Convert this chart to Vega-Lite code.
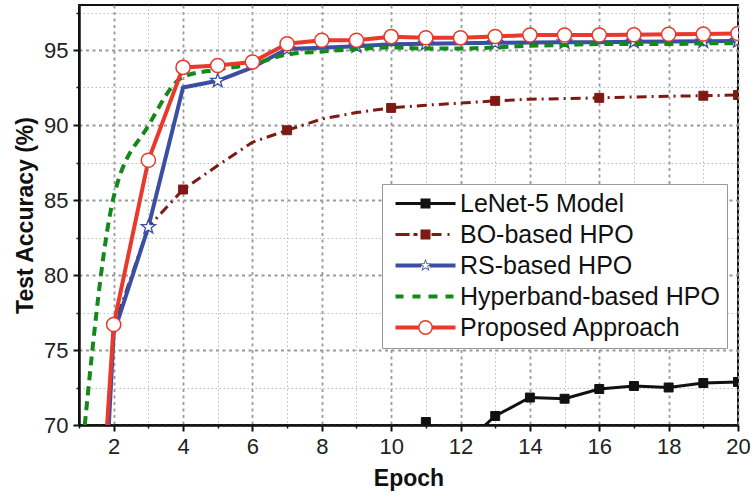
{
  "$schema": "https://vega.github.io/schema/vega-lite/v6.json",
  "width": 659,
  "height": 420,
  "autosize": "none",
  "padding": {"left": 79, "top": 5, "right": 13, "bottom": 71},
  "background": "white",
  "config": {
    "view": {"stroke": "#111111", "strokeWidth": 2},
    "font": "Liberation Sans"
  },
  "data": {
    "values": [
      {"series": "LeNet-5 Model", "epoch": 10, "acc": 62},
      {"series": "LeNet-5 Model", "epoch": 11, "acc": 70.2},
      {"series": "LeNet-5 Model", "epoch": 12, "acc": 68.5},
      {"series": "LeNet-5 Model", "epoch": 13, "acc": 70.6},
      {"series": "LeNet-5 Model", "epoch": 14, "acc": 71.83},
      {"series": "LeNet-5 Model", "epoch": 15, "acc": 71.75},
      {"series": "LeNet-5 Model", "epoch": 16, "acc": 72.4},
      {"series": "LeNet-5 Model", "epoch": 17, "acc": 72.6},
      {"series": "LeNet-5 Model", "epoch": 18, "acc": 72.5},
      {"series": "LeNet-5 Model", "epoch": 19, "acc": 72.8},
      {"series": "LeNet-5 Model", "epoch": 20, "acc": 72.87},
      {"series": "BO-based HPO", "epoch": 1, "acc": 35},
      {"series": "BO-based HPO", "epoch": 2, "acc": 76.5},
      {"series": "BO-based HPO", "epoch": 3, "acc": 83.2},
      {"series": "BO-based HPO", "epoch": 4, "acc": 85.7},
      {"series": "BO-based HPO", "epoch": 5, "acc": 87.3},
      {"series": "BO-based HPO", "epoch": 6, "acc": 88.85},
      {"series": "BO-based HPO", "epoch": 7, "acc": 89.65},
      {"series": "BO-based HPO", "epoch": 8, "acc": 90.4},
      {"series": "BO-based HPO", "epoch": 9, "acc": 90.83},
      {"series": "BO-based HPO", "epoch": 10, "acc": 91.14},
      {"series": "BO-based HPO", "epoch": 11, "acc": 91.32},
      {"series": "BO-based HPO", "epoch": 12, "acc": 91.46},
      {"series": "BO-based HPO", "epoch": 13, "acc": 91.61},
      {"series": "BO-based HPO", "epoch": 14, "acc": 91.72},
      {"series": "BO-based HPO", "epoch": 15, "acc": 91.76},
      {"series": "BO-based HPO", "epoch": 16, "acc": 91.81},
      {"series": "BO-based HPO", "epoch": 17, "acc": 91.87},
      {"series": "BO-based HPO", "epoch": 18, "acc": 91.92},
      {"series": "BO-based HPO", "epoch": 19, "acc": 91.95},
      {"series": "BO-based HPO", "epoch": 20, "acc": 92.0},
      {"series": "RS-based HPO", "epoch": 1, "acc": 32.5},
      {"series": "RS-based HPO", "epoch": 2, "acc": 76.1},
      {"series": "RS-based HPO", "epoch": 3, "acc": 83.2},
      {"series": "RS-based HPO", "epoch": 4, "acc": 92.5},
      {"series": "RS-based HPO", "epoch": 5, "acc": 92.95},
      {"series": "RS-based HPO", "epoch": 6, "acc": 93.84},
      {"series": "RS-based HPO", "epoch": 7, "acc": 95.06},
      {"series": "RS-based HPO", "epoch": 8, "acc": 95.15},
      {"series": "RS-based HPO", "epoch": 9, "acc": 95.25},
      {"series": "RS-based HPO", "epoch": 10, "acc": 95.38},
      {"series": "RS-based HPO", "epoch": 11, "acc": 95.42},
      {"series": "RS-based HPO", "epoch": 12, "acc": 95.45},
      {"series": "RS-based HPO", "epoch": 13, "acc": 95.48},
      {"series": "RS-based HPO", "epoch": 14, "acc": 95.5},
      {"series": "RS-based HPO", "epoch": 15, "acc": 95.52},
      {"series": "RS-based HPO", "epoch": 16, "acc": 95.52},
      {"series": "RS-based HPO", "epoch": 17, "acc": 95.55},
      {"series": "RS-based HPO", "epoch": 18, "acc": 95.56},
      {"series": "RS-based HPO", "epoch": 19, "acc": 95.58},
      {"series": "RS-based HPO", "epoch": 20, "acc": 95.6},
      {"series": "Hyperband-based HPO", "epoch": 1, "acc": 66},
      {"series": "Hyperband-based HPO", "epoch": 2, "acc": 85.2},
      {"series": "Hyperband-based HPO", "epoch": 3, "acc": 89.95},
      {"series": "Hyperband-based HPO", "epoch": 4, "acc": 93.2},
      {"series": "Hyperband-based HPO", "epoch": 5, "acc": 93.7},
      {"series": "Hyperband-based HPO", "epoch": 6, "acc": 94.06},
      {"series": "Hyperband-based HPO", "epoch": 7, "acc": 94.7},
      {"series": "Hyperband-based HPO", "epoch": 8, "acc": 94.9},
      {"series": "Hyperband-based HPO", "epoch": 9, "acc": 95.06},
      {"series": "Hyperband-based HPO", "epoch": 10, "acc": 95.17},
      {"series": "Hyperband-based HPO", "epoch": 11, "acc": 95.1},
      {"series": "Hyperband-based HPO", "epoch": 12, "acc": 95.1},
      {"series": "Hyperband-based HPO", "epoch": 13, "acc": 95.17},
      {"series": "Hyperband-based HPO", "epoch": 14, "acc": 95.28},
      {"series": "Hyperband-based HPO", "epoch": 15, "acc": 95.33},
      {"series": "Hyperband-based HPO", "epoch": 16, "acc": 95.4},
      {"series": "Hyperband-based HPO", "epoch": 17, "acc": 95.4},
      {"series": "Hyperband-based HPO", "epoch": 18, "acc": 95.4},
      {"series": "Hyperband-based HPO", "epoch": 19, "acc": 95.44},
      {"series": "Hyperband-based HPO", "epoch": 20, "acc": 95.45},
      {"series": "Proposed Approach", "epoch": 1, "acc": 41.4},
      {"series": "Proposed Approach", "epoch": 2, "acc": 76.7},
      {"series": "Proposed Approach", "epoch": 3, "acc": 87.65},
      {"series": "Proposed Approach", "epoch": 4, "acc": 93.84},
      {"series": "Proposed Approach", "epoch": 5, "acc": 93.97},
      {"series": "Proposed Approach", "epoch": 6, "acc": 94.2},
      {"series": "Proposed Approach", "epoch": 7, "acc": 95.42},
      {"series": "Proposed Approach", "epoch": 8, "acc": 95.65},
      {"series": "Proposed Approach", "epoch": 9, "acc": 95.65},
      {"series": "Proposed Approach", "epoch": 10, "acc": 95.89},
      {"series": "Proposed Approach", "epoch": 11, "acc": 95.82},
      {"series": "Proposed Approach", "epoch": 12, "acc": 95.82},
      {"series": "Proposed Approach", "epoch": 13, "acc": 95.9},
      {"series": "Proposed Approach", "epoch": 14, "acc": 96.0},
      {"series": "Proposed Approach", "epoch": 15, "acc": 96.0},
      {"series": "Proposed Approach", "epoch": 16, "acc": 96.0},
      {"series": "Proposed Approach", "epoch": 17, "acc": 96.02},
      {"series": "Proposed Approach", "epoch": 18, "acc": 96.05},
      {"series": "Proposed Approach", "epoch": 19, "acc": 96.07},
      {"series": "Proposed Approach", "epoch": 20, "acc": 96.1}
    ]
  },
  "resolve": {"axis": {"x": "independent", "y": "independent"}},
  "layer": [
    {
      "transform": [{"filter": "datum.series === 'LeNet-5 Model'"}],
      "mark": {"type": "line", "clip": true, "strokeWidth": 3},
      "encoding": {
        "x": {
          "field": "epoch", "type": "quantitative",
          "scale": {"domain": [1, 20], "nice": false, "zero": false},
          "axis": {
            "values": [2, 4, 6, 8, 10, 12, 14, 16, 18, 20], "orient": "bottom", "format": "d",
            "title": "Epoch", "grid": true, "gridColor": "#999999", "gridDash": [3, 3.5], "gridWidth": 1.8,
            "domainColor": "#111111", "domainWidth": 2.5, "tickColor": "#111111", "tickWidth": 2, "tickSize": 6,
            "labelFont": "Liberation Sans", "labelFontSize": 22, "labelColor": "#222222", "labelPadding": 5,
            "labelFlush": false, "labelOverlap": false,
            "titleFont": "Liberation Sans", "titleFontSize": 23, "titleFontWeight": "bold", "titleColor": "#111111", "titlePadding": 10
          }
        },
        "y": {
          "field": "acc", "type": "quantitative",
          "scale": {"domain": [70, 98], "nice": false, "zero": false},
          "axis": {
            "values": [70, 75, 80, 85, 90, 95], "orient": "left", "format": "d",
            "title": "Test Accuracy (%)", "grid": true, "gridColor": "#999999", "gridDash": [3, 3.5], "gridWidth": 1.8,
            "domainColor": "#111111", "domainWidth": 2.5, "tickColor": "#111111", "tickWidth": 2, "tickSize": 6,
            "labelFont": "Liberation Sans", "labelFontSize": 22, "labelColor": "#222222", "labelPadding": 5,
            "labelFlush": false, "labelOverlap": false,
            "titleFont": "Liberation Sans", "titleFontSize": 23, "titleFontWeight": "bold", "titleColor": "#111111", "titlePadding": 6
          }
        },
        "color": {
          "field": "series", "type": "nominal",
          "scale": {
            "domain": ["LeNet-5 Model", "BO-based HPO", "RS-based HPO", "Hyperband-based HPO", "Proposed Approach"],
            "range": ["#111111", "#7d1a14", "#3a4ea3", "#13891a", "#e8392c"]
          },
          "legend": {
            "orient": "none", "legendX": 303, "legendY": 179, "title": null,
            "padding": 7, "strokeColor": "#999999", "fillColor": "white",
            "labelFont": "Liberation Sans", "labelFontSize": 25, "labelColor": "#111111", "labelLimit": 400,
            "symbolSize": 576, "symbolStrokeWidth": 0, "labelOffset": 46, "rowPadding": 5,
            "encode": {
              "symbols": {
                "update": {
                  "shape": {"signal": "datum.value === 'LeNet-5 Model' ? 'M-0.5,-0.125H4.5V0.125H-0.5V-0.125M1.583,-0.417H2.417V0.417H1.583V-0.417' : datum.value === 'BO-based HPO' ? 'M-0.5,-0.125H0.667V0.125H-0.5V-0.125M1,-0.125H1.333V0.125H1V-0.125M1.583,-0.417H2.417V0.417H1.583V-0.417M2.5,-0.125H3.333V0.125H2.5V-0.125M3.833,-0.125H4V0.125H3.833V-0.125' : datum.value === 'RS-based HPO' ? 'M-0.5,-0.167H1.65V0.167H-0.5V-0.167M2.35,-0.167H4.5V0.167H2.35V-0.167M2,-0.567L2.133,-0.184L2.539,-0.175L2.216,0.07L2.333,0.459L2,0.227L1.667,0.459L1.784,0.07L1.461,-0.175L1.867,-0.184L2,-0.567M2,-0.369L1.913,-0.119L1.649,-0.114L1.86,0.046L1.783,0.299L2,0.148L2.217,0.299L2.14,0.046L2.351,-0.114L2.087,-0.119L2,-0.369' : datum.value === 'Hyperband-based HPO' ? 'M-0.5,-0.167H0.167V0.167H-0.5V-0.167M0.917,-0.167H1.583V0.167H0.917V-0.167M2.25,-0.167H3V0.167H2.25V-0.167M3.667,-0.167H4.333V0.167H3.667V-0.167' : 'M-0.5,-0.167H1.45V0.167H-0.5V-0.167M2.55,-0.167H4.5V0.167H2.55V-0.167M1.375,0L1.423,-0.239L1.558,-0.442L1.761,-0.577L2,-0.625L2.239,-0.577L2.442,-0.442L2.577,-0.239L2.625,0L2.577,0.239L2.442,0.442L2.239,0.577L2,0.625L1.761,0.577L1.558,0.442L1.423,0.239L1.375,0M1.5,0L1.538,0.191L1.646,0.354L1.809,0.462L2,0.5L2.191,0.462L2.354,0.354L2.462,0.191L2.5,0L2.462,-0.191L2.354,-0.354L2.191,-0.462L2,-0.5L1.809,-0.462L1.646,-0.354L1.538,-0.191L1.5,0'"},
                  "fill": {"signal": "datum.value === 'LeNet-5 Model' ? '#111111' : datum.value === 'BO-based HPO' ? '#7d1a14' : datum.value === 'RS-based HPO' ? '#3a4ea3' : datum.value === 'Hyperband-based HPO' ? '#13891a' : '#e8392c'"},
                  "stroke": {"value": "transparent"},
                  "strokeWidth": {"value": 0},
                  "opacity": {"value": 1}
                }
              }
            }
          }
        }
      }
    },
    {
      "transform": [{"filter": "datum.series === 'BO-based HPO'"}],
      "mark": {"type": "line", "clip": true, "color": "#7d1a14", "strokeWidth": 3, "strokeDash": [10, 5, 2, 5]},
      "encoding": {
        "x": {"field": "epoch", "type": "quantitative", "axis": null},
        "y": {"field": "acc", "type": "quantitative", "axis": null}
      }
    },
    {
      "transform": [{"filter": "datum.series === 'RS-based HPO'"}],
      "mark": {"type": "line", "clip": true, "color": "#3a4ea3", "strokeWidth": 4},
      "encoding": {
        "x": {"field": "epoch", "type": "quantitative", "axis": null},
        "y": {"field": "acc", "type": "quantitative", "axis": null}
      }
    },
    {
      "transform": [{"filter": "datum.series === 'LeNet-5 Model'"}],
      "mark": {"type": "point", "shape": "square", "clip": true, "filled": true, "fill": "#111111", "stroke": "#111111", "strokeWidth": 1, "size": 80, "opacity": 1},
      "encoding": {
        "x": {"field": "epoch", "type": "quantitative", "axis": null},
        "y": {"field": "acc", "type": "quantitative", "axis": null}
      }
    },
    {
      "transform": [{"filter": "datum.series === 'BO-based HPO' && (datum.epoch % 3 === 1 || datum.epoch === 20)"}],
      "mark": {"type": "point", "shape": "square", "clip": true, "filled": true, "fill": "#7d1a14", "stroke": "#7d1a14", "strokeWidth": 1, "size": 80, "opacity": 1},
      "encoding": {
        "x": {"field": "epoch", "type": "quantitative", "axis": null},
        "y": {"field": "acc", "type": "quantitative", "axis": null}
      }
    },
    {
      "transform": [{"filter": "datum.series === 'RS-based HPO' && (datum.epoch % 2 === 1 || datum.epoch === 20)"}],
      "mark": {"type": "point", "shape": "M0,-1L0.235,-0.324L0.951,-0.309L0.38,0.124L0.588,0.809L0,0.4L-0.588,0.809L-0.38,0.124L-0.951,-0.309L-0.235,-0.324L0,-1", "clip": true, "filled": true, "fill": "white", "stroke": "#3a4ea3", "strokeWidth": 1.3, "size": 220, "opacity": 1},
      "encoding": {
        "x": {"field": "epoch", "type": "quantitative", "axis": null},
        "y": {"field": "acc", "type": "quantitative", "axis": null}
      }
    },
    {
      "transform": [{"filter": "datum.series === 'Hyperband-based HPO'"}],
      "mark": {"type": "line", "clip": true, "interpolate": "monotone", "color": "#13891a", "strokeDash": [9, 6], "strokeWidth": 4},
      "encoding": {
        "x": {
          "field": "epoch", "type": "quantitative",
          "axis": {
            "values": [1, 3, 5, 7, 9, 11, 13, 15, 17, 19], "orient": "bottom", "title": null, "labels": false, "domain": false,
            "grid": true, "gridColor": "#bbbbbb", "gridDash": [1.5, 2.5], "gridWidth": 1,
            "tickColor": "#111111", "tickWidth": 1.5, "tickSize": 3
          }
        },
        "y": {
          "field": "acc", "type": "quantitative",
          "axis": {
            "values": [72.5, 77.5, 82.5, 87.5, 92.5, 97.5], "orient": "left", "title": null, "labels": false, "domain": false,
            "grid": true, "gridColor": "#bbbbbb", "gridDash": [1.5, 2.5], "gridWidth": 1,
            "tickColor": "#111111", "tickWidth": 1.5, "tickSize": 3
          }
        }
      }
    },
    {
      "transform": [{"filter": "datum.series === 'Proposed Approach'"}],
      "mark": {"type": "line", "clip": true, "color": "#e8392c", "strokeWidth": 4},
      "encoding": {
        "x": {"field": "epoch", "type": "quantitative", "axis": null},
        "y": {"field": "acc", "type": "quantitative", "axis": null}
      }
    },
    {
      "transform": [{"filter": "datum.series === 'Proposed Approach'"}],
      "mark": {"type": "point", "shape": "circle", "clip": true, "filled": true, "fill": "white", "stroke": "#e8392c", "strokeWidth": 1.5, "size": 200, "opacity": 1},
      "encoding": {
        "x": {"field": "epoch", "type": "quantitative", "axis": null},
        "y": {"field": "acc", "type": "quantitative", "axis": null}
      }
    }
  ]
}
